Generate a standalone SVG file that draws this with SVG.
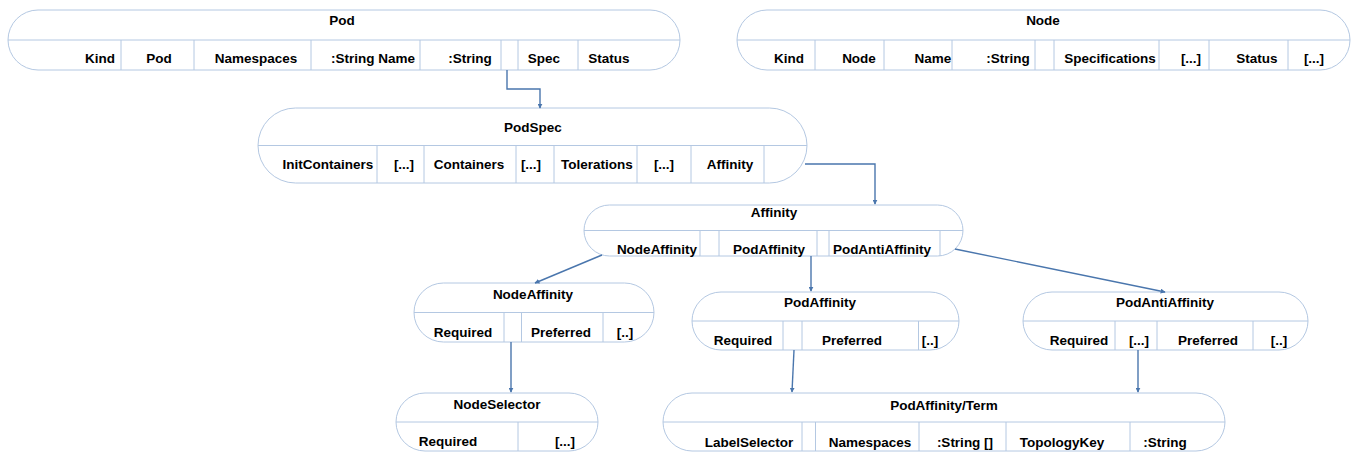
<svg xmlns="http://www.w3.org/2000/svg" width="1354" height="452" viewBox="0 0 1354 452">
<style>
.box{fill:#ffffff;stroke:#b4c8e2;stroke-width:1}
.div{stroke:#b4c8e2;stroke-width:1;fill:none}
.t{font-family:"Liberation Sans",Arial,sans-serif;font-weight:bold;font-size:13.5px;fill:#000;text-anchor:middle}
.c{stroke:#4a76ad;stroke-width:1.4;fill:none;marker-end:url(#ah)}
</style>
<defs>
<marker id="ah" viewBox="0 0 8 8" refX="7" refY="4" markerWidth="5" markerHeight="5" markerUnits="userSpaceOnUse" orient="auto">
<path d="M0,0 L8,4 L0,8 Z" fill="#4a76ad"/>
</marker>
</defs>
<rect width="1354" height="452" fill="#ffffff"/>

<g id="pod">
<rect class="box" x="8" y="10" width="672" height="60" rx="30" ry="30"/>
<path class="div" d="M8,40 H680 M121,40 V70 M194,40 V70 M311,40 V70 M420,40 V70 M501,40 V70 M518,40 V70 M578,40 V70"/>
<text class="t" x="342" y="25">Pod</text>
<text class="t" x="100" y="63">Kind</text>
<text class="t" x="159" y="63">Pod</text>
<text class="t" x="256" y="63">Namespaces</text>
<text class="t" x="373" y="63">:String Name</text>
<text class="t" x="470" y="63">:String</text>
<text class="t" x="544" y="63">Spec</text>
<text class="t" x="609" y="63">Status</text>
</g>

<g id="node">
<rect class="box" x="737" y="10" width="613" height="60" rx="30" ry="30"/>
<path class="div" d="M737,40 H1350 M815,40 V70 M884,40 V70 M952,40 V70 M1035,40 V70 M1054,40 V70 M1159,40 V70 M1209,40 V70 M1288,40 V70"/>
<text class="t" x="1043" y="25">Node</text>
<text class="t" x="789" y="63">Kind</text>
<text class="t" x="859" y="63">Node</text>
<text class="t" x="933" y="63">Name</text>
<text class="t" x="1008" y="63">:String</text>
<text class="t" x="1110" y="63">Specifications</text>
<text class="t" x="1191" y="63">[...]</text>
<text class="t" x="1257" y="63">Status</text>
<text class="t" x="1314" y="63">[...]</text>
</g>

<g id="podspec">
<rect class="box" x="258" y="108" width="549" height="75" rx="37.5" ry="37.5"/>
<path class="div" d="M258,145.5 H807 M377,145.5 V183 M424,145.5 V183 M516,145.5 V183 M554,145.5 V183 M637,145.5 V183 M691,145.5 V183 M764,145.5 V183"/>
<text class="t" x="533" y="132">PodSpec</text>
<text class="t" x="328" y="169">InitContainers</text>
<text class="t" x="404" y="169">[...]</text>
<text class="t" x="469" y="169">Containers</text>
<text class="t" x="531" y="169">[...]</text>
<text class="t" x="597" y="169">Tolerations</text>
<text class="t" x="664" y="169">[...]</text>
<text class="t" x="730" y="169">Affinity</text>
</g>

<g id="affinity">
<rect class="box" x="584" y="205" width="379" height="51" rx="25.5" ry="25.5"/>
<path class="div" d="M584,230.5 H963 M700,230.5 V256 M719,230.5 V256 M817,230.5 V256 M829,230.5 V256 M940,230.5 V256"/>
<text class="t" x="774" y="217">Affinity</text>
<text class="t" x="657" y="254">NodeAffinity</text>
<text class="t" x="769" y="254">PodAffinity</text>
<text class="t" x="882" y="254">PodAntiAffinity</text>
</g>

<g id="nodeaffinity">
<rect class="box" x="414" y="283" width="240" height="59" rx="29.5" ry="29.5"/>
<path class="div" d="M414,312.5 H654 M504,312.5 V342 M521.5,312.5 V342 M603,312.5 V342"/>
<text class="t" x="533" y="299">NodeAffinity</text>
<text class="t" x="463" y="337">Required</text>
<text class="t" x="561" y="337">Preferred</text>
<text class="t" x="625" y="337">[..]</text>
</g>

<g id="podaffinity">
<rect class="box" x="692" y="292" width="267" height="58" rx="29" ry="29"/>
<path class="div" d="M692,321 H959 M783,321 V350 M802,321 V350 M918.5,321 V350"/>
<text class="t" x="820" y="307">PodAffinity</text>
<text class="t" x="743" y="345">Required</text>
<text class="t" x="852" y="345">Preferred</text>
<text class="t" x="930" y="345">[..]</text>
</g>

<g id="podantiaffinity">
<rect class="box" x="1023" y="292" width="285" height="58" rx="29" ry="29"/>
<path class="div" d="M1023,321 H1308 M1115,321 V350 M1157,321 V350 M1253,321 V350"/>
<text class="t" x="1165" y="307">PodAntiAffinity</text>
<text class="t" x="1079" y="345">Required</text>
<text class="t" x="1139" y="345">[...]</text>
<text class="t" x="1208" y="345">Preferred</text>
<text class="t" x="1279" y="345">[..]</text>
</g>

<g id="nodeselector">
<rect class="box" x="396" y="393" width="202" height="58" rx="29" ry="29"/>
<path class="div" d="M396,422 H598 M518,422 V451"/>
<text class="t" x="497" y="408.5">NodeSelector</text>
<text class="t" x="448" y="446">Required</text>
<text class="t" x="565" y="446">[...]</text>
</g>

<g id="podaffinityterm">
<rect class="box" x="663" y="393" width="562" height="58" rx="29" ry="29"/>
<path class="div" d="M663,422 H1225 M802,422 V451 M815.5,422 V451 M919,422 V451 M1006,422 V451 M1130,422 V451"/>
<text class="t" x="944" y="410">PodAffinity/Term</text>
<text class="t" x="749" y="447">LabelSelector</text>
<text class="t" x="870" y="447">Namespaces</text>
<text class="t" x="965" y="447">:String []</text>
<text class="t" x="1062" y="447">TopologyKey</text>
<text class="t" x="1165" y="447">:String</text>
</g>

<g id="connectors">
<path class="c" d="M507,70 V89 H540 V108"/>
<path class="c" d="M805,164 H875 V204"/>
<path class="c" d="M602,255 L535,283"/>
<path class="c" d="M811,256 V291"/>
<path class="c" d="M955,249 L1165,292"/>
<path class="c" d="M511,342 V392"/>
<path class="c" d="M794,350 L792,392"/>
<path class="c" d="M1138,350 V392"/>
</g>
</svg>
